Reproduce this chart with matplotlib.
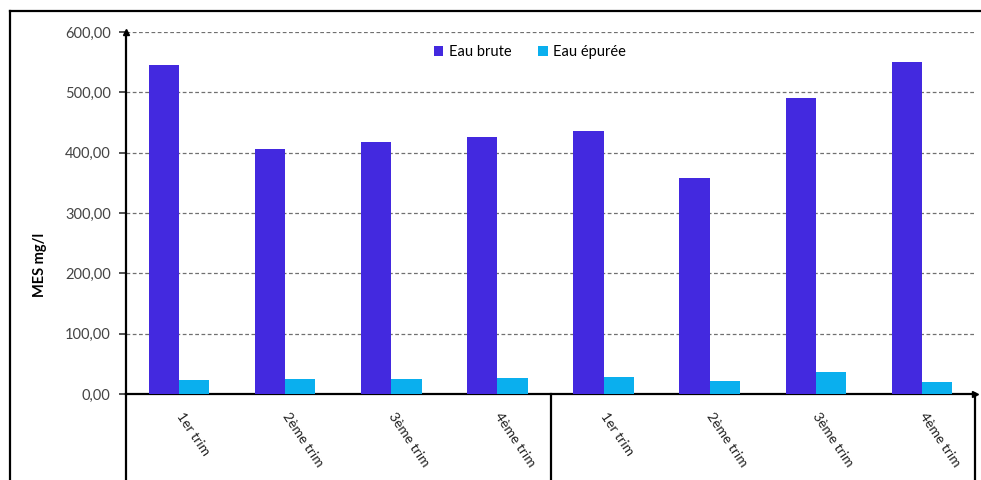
import matplotlib.pyplot as plt
from matplotlib.lines import Line2D
from matplotlib.ticker import FuncFormatter
import numpy as np

plt.rcParams['font.family'] = ['Lato', 'DejaVu Sans']

categories = ["1er trim", "2ème trim", "3ème trim", "4ème trim",
              "1er trim", "2ème trim", "3ème trim", "4ème trim"]
eau_brute = [546, 406, 418, 426, 436, 358, 491, 551]
eau_epuree = [23, 25, 25, 27, 28, 22, 36, 20]

fig = plt.figure(figsize=(9.81, 4.8), dpi=100)
ax = fig.add_axes([126 / 981, 86 / 480, 849 / 981, 362 / 480])

x = np.arange(len(categories))
w = 0.285
ax.bar(x - w / 2, eau_brute, w, color="#4329DF", label="Eau brute", zorder=3)
ax.bar(x + w / 2, eau_epuree, w, color="#0AAFEE", label="Eau épurée", zorder=3)

ax.set_xlim(-0.5, len(categories) - 0.5)
ax.set_ylim(0, 600)
ax.set_yticks(range(0, 601, 100))
ax.yaxis.set_major_formatter(FuncFormatter(lambda v, p: f"{v:.2f}".replace(".", ",")))
ax.yaxis.grid(True, linestyle=(0, (3, 2)), color="#707070", linewidth=0.9, zorder=0)
ax.tick_params(axis="y", length=5, width=1.2, labelsize=10.5, colors="#333333",
               labelcolor="#444444", pad=6)

ax.set_xticks(x)
ax.set_xticklabels(categories, rotation=-56, ha="left", va="center",
                   rotation_mode="anchor", fontsize=10, color="#222222")
ax.tick_params(axis="x", length=0, pad=14)

for side in ("top", "right"):
    ax.spines[side].set_visible(False)
ax.spines["left"].set_linewidth(1.6)
ax.spines["bottom"].set_linewidth(1.6)

# arrow heads on axes
ax.plot(0, 1, marker="^", markersize=5, color="black", transform=ax.transAxes, clip_on=False)
ax.plot(1, 0, marker=">", markersize=5, color="black", transform=ax.transAxes, clip_on=False)

# category group separators under the axis
trans = ax.get_xaxis_transform()
for b in (-0.5, 3.5, 7.5):
    ax.plot([b, b], [0, -0.4], color="black", linewidth=1.6, transform=trans, clip_on=False)

ax.legend(loc="upper center", bbox_to_anchor=(0.476, 1.0), ncol=2, frameon=False,
          fontsize=10.5, handlelength=0.65, handleheight=0.65, handletextpad=0.4,
          columnspacing=1.8)

fig.text(40 / 981, 215 / 480, "MES mg/l", rotation=90, fontsize=10.5, fontweight="bold",
         ha="center", va="center")

# outer chart frame
fig.add_artist(Line2D([10 / 981, 1.0], [469 / 480, 469 / 480], color="black", linewidth=1.6))
fig.add_artist(Line2D([10 / 981, 10 / 981], [0, 469 / 480], color="black", linewidth=1.6))

fig.savefig("out.png", dpi=100)
